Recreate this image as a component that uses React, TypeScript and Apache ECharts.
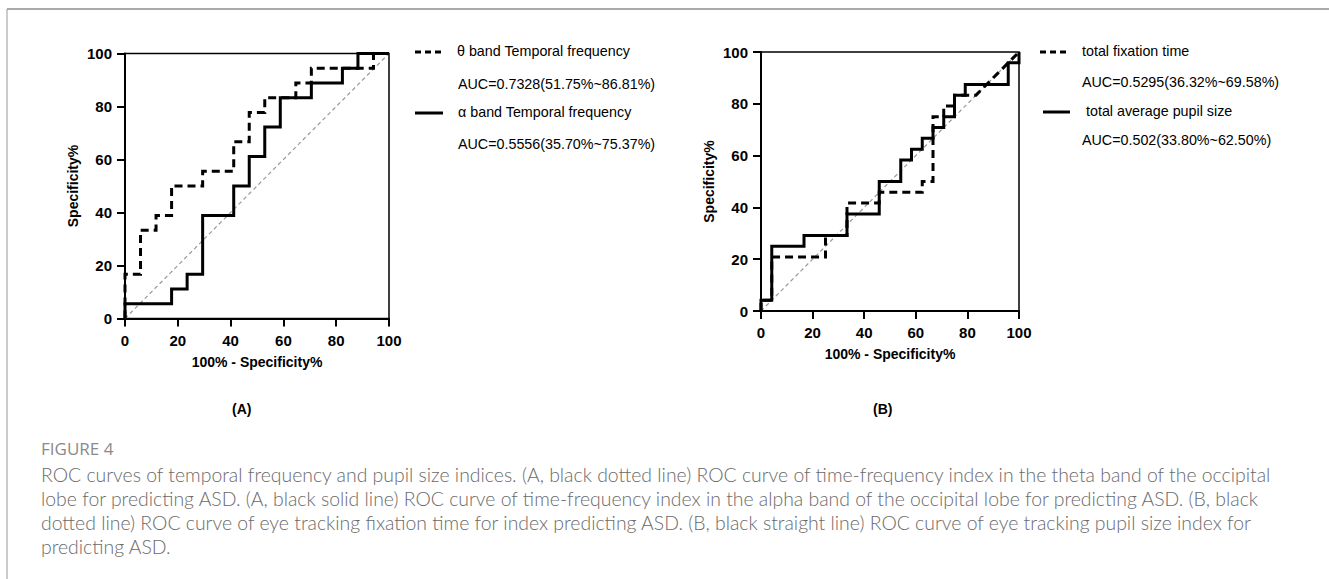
import React, { useEffect, useRef } from "react";
import * as echarts from "echarts";

// Panel A: theta band (dashed) and alpha band (solid) ROC points
const thetaX = [0, 0, 5.88, 5.88, 11.76, 11.76, 17.65, 17.65, 29.41, 29.41, 41.18, 41.18, 47.06, 47.06, 52.94, 52.94, 64.71, 64.71, 70.59, 70.59, 94.12, 94.12, 100];
const thetaY = [0, 16.67, 16.67, 33.33, 33.33, 38.89, 38.89, 50, 50, 55.56, 55.56, 66.67, 66.67, 77.78, 77.78, 83.33, 83.33, 88.89, 88.89, 94.44, 94.44, 100, 100];
const alphaX = [0, 0, 17.65, 17.65, 23.53, 23.53, 29.41, 29.41, 41.18, 41.18, 47.06, 47.06, 52.94, 52.94, 58.82, 58.82, 70.59, 70.59, 82.35, 82.35, 88.24, 88.24, 100];
const alphaY = [0, 5.56, 5.56, 11.11, 11.11, 16.67, 16.67, 38.89, 38.89, 50, 50, 61.11, 61.11, 72.22, 72.22, 83.33, 83.33, 88.89, 88.89, 94.44, 94.44, 100, 100];

// Panel B: total fixation time (dashed) and total average pupil size (solid)
const fixX = [0, 0, 4.17, 4.17, 25, 25, 33.33, 33.33, 45.83, 45.83, 62.5, 62.5, 66.67, 66.67, 70.83, 70.83, 75, 75, 83.33, 100];
const fixY = [0, 4.17, 4.17, 20.83, 20.83, 29.17, 29.17, 41.67, 41.67, 45.83, 45.83, 50, 50, 75, 75, 79.17, 79.17, 83.33, 83.33, 100];
const pupilX = [0, 0, 4.17, 4.17, 16.67, 16.67, 33.33, 33.33, 45.83, 45.83, 54.17, 54.17, 58.33, 58.33, 62.5, 62.5, 66.67, 66.67, 70.83, 70.83, 75, 75, 79.17, 79.17, 95.83, 95.83, 100, 100];
const pupilY = [0, 4.17, 4.17, 25, 25, 29.17, 29.17, 37.5, 37.5, 50, 50, 58.33, 58.33, 62.5, 62.5, 66.67, 66.67, 70.83, 70.83, 75, 75, 83.33, 83.33, 87.5, 87.5, 95.83, 95.83, 100];

const diagX = [0, 100];
const diagY = [0, 100];

const legendA = ["θ band Temporal frequency", "AUC=0.7328(51.75%~86.81%)", "α band Temporal frequency", "AUC=0.5556(35.70%~75.37%)"];
const legendB = ["total fixation time", "AUC=0.5295(36.32%~69.58%)", "total average pupil size", "AUC=0.502(33.80%~62.50%)"];

const captionTitle = "FIGURE 4";
const captionLines = [
  "ROC curves of temporal frequency and pupil size indices. (A, black dotted line) ROC curve of time-frequency index in the theta band of the occipital",
  "lobe for predicting ASD. (A, black solid line) ROC curve of time-frequency index in the alpha band of the occipital lobe for predicting ASD. (B, black",
  "dotted line) ROC curve of eye tracking fixation time for index predicting ASD. (B, black straight line) ROC curve of eye tracking pupil size index for",
  "predicting ASD.",
];

const zip = (xs: number[], ys: number[]) => xs.map((x, i) => [x, ys[i]]);

export default function App() {
  const ref = useRef<HTMLDivElement>(null);
  useEffect(() => {
    document.body.style.margin = "0";
    const chart = echarts.init(ref.current!, null, { renderer: "svg" });
    const font = "Liberation Sans";
    const mkX = (gi: number, gap: number) => ({
      type: "value",
      gridIndex: gi,
      min: 0,
      max: 100,
      interval: 20,
      name: "100% - Specificity%",
      nameLocation: "middle",
      nameGap: gap,
      nameTextStyle: { fontFamily: font, fontWeight: "bold", fontSize: 14, color: "#000" },
      axisLine: { show: true, lineStyle: { color: "#000", width: 2 } },
      axisTick: { show: true, length: 8, lineStyle: { color: "#000", width: 2 } },
      axisLabel: { fontFamily: font, fontWeight: "bold", fontSize: 15, color: "#000", margin: 14 },
      splitLine: { show: false },
    });
    const mkY = (gi: number, gap: number) => ({
      type: "value",
      gridIndex: gi,
      min: 0,
      max: 100,
      interval: 20,
      name: "Specificity%",
      nameLocation: "middle",
      nameGap: gap,
      nameRotate: 90,
      nameTextStyle: { fontFamily: font, fontWeight: "bold", fontSize: 14, color: "#000" },
      axisLine: { show: true, lineStyle: { color: "#000", width: 2 } },
      axisTick: { show: true, length: 8, lineStyle: { color: "#000", width: 2 } },
      axisLabel: { fontFamily: font, fontWeight: "bold", fontSize: 15, color: "#000", margin: 13 },
      splitLine: { show: false },
    });
    const curve = (name: string, gi: number, xs: number[], ys: number[], dashed: boolean) => ({
      name,
      type: "line",
      xAxisIndex: gi,
      yAxisIndex: gi,
      data: zip(xs, ys),
      showSymbol: false,
      symbol: "none",
      lineStyle: { color: "#000", width: 3, type: dashed ? [8, 5] : "solid", cap: "butt", join: "miter" },
      z: dashed ? 4 : 3,
    });
    const diag = (gi: number) => ({
      name: "ref" + gi,
      type: "line",
      xAxisIndex: gi,
      yAxisIndex: gi,
      data: zip(diagX, diagY),
      symbol: "none",
      lineStyle: { color: "#999", width: 1.2, type: [4, 3] },
      z: 2,
    });
    const legText = (text: string, x: number, y: number) => ({
      type: "text",
      left: x,
      top: y - 8,
      style: { text, fontFamily: font, fontSize: 14.3, fill: "#000" },
    });
    const legLine = (x1: number, x2: number, y: number, dashed: boolean) => ({
      type: "line",
      shape: { x1, y1: y, x2, y2: y },
      style: { stroke: "#000", lineWidth: 3, lineDash: dashed ? [6, 4] : null },
    });
    const capFont = "Lato";
    const option: any = {
      animation: false,
      backgroundColor: "#fff",
      grid: [
        { left: 125, top: 53.5, width: 264, height: 265, show: true, borderColor: "#000", borderWidth: 1.5, backgroundColor: "transparent" },
        { left: 761, top: 52, width: 258, height: 259, show: true, borderColor: "#000", borderWidth: 1.5, backgroundColor: "transparent" },
      ],
      xAxis: [mkX(0, 36), mkX(1, 36)],
      yAxis: [mkY(0, 45), mkY(1, 45)],
      series: [
        diag(0),
        curve("α band Temporal frequency", 0, alphaX, alphaY, false),
        curve("θ band Temporal frequency", 0, thetaX, thetaY, true),
        diag(1),
        curve("total average pupil size", 1, pupilX, pupilY, false),
        curve("total fixation time", 1, fixX, fixY, true),
      ],
      graphic: [
        { type: "line", shape: { x1: 7, y1: 9, x2: 1329, y2: 9 }, style: { stroke: "#aaa", lineWidth: 2 } },
        { type: "line", shape: { x1: 7, y1: 9, x2: 7, y2: 579 }, style: { stroke: "#999", lineWidth: 1 } },
        legLine(415, 445, 52, true),
        legText(legendA[0], 457, 52),
        legText(legendA[1], 458, 85),
        legLine(415, 443, 113, false),
        legText(legendA[2], 458, 113),
        legText(legendA[3], 458, 145),
        legLine(1040, 1066, 52, true),
        legText(legendB[0], 1082, 52),
        legText(legendB[1], 1082, 83),
        legLine(1043, 1070, 112, false),
        legText(legendB[2], 1086, 112),
        legText(legendB[3], 1082, 141),
        { type: "text", left: 232, top: 402, style: { text: "(A)", fontFamily: font, fontWeight: "bold", fontSize: 14, fill: "#000" } },
        { type: "text", left: 873, top: 402, style: { text: "(B)", fontFamily: font, fontWeight: "bold", fontSize: 14, fill: "#000" } },
        { type: "text", left: 41, top: 440, style: { text: captionTitle, fontFamily: "Open Sans", fontSize: 17, fill: "#8a8a8a" } },
        ...captionLines.map((t, i) => ({
          type: "text",
          left: 41,
          top: 465 + i * 24,
          style: { text: t, fontFamily: capFont, fontSize: 19.4, fontWeight: 300, fill: "#6a6a6a" },
        })),
      ],
    };
    chart.setOption(option);
    return () => chart.dispose();
  }, []);
  return <div ref={ref} style={{ width: 1329, height: 579 }} />;
}
